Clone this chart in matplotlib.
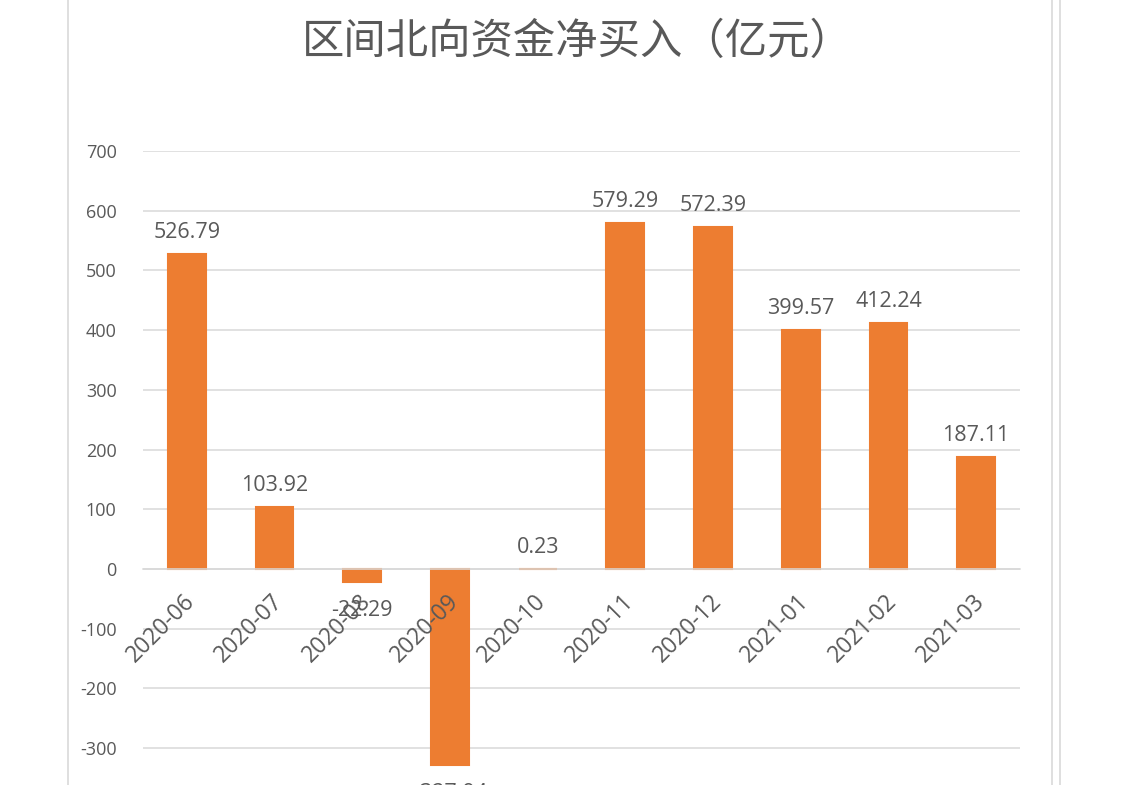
import matplotlib
matplotlib.use("Agg")
import matplotlib.pyplot as plt
from matplotlib.lines import Line2D
from matplotlib.transforms import ScaledTranslation
import numpy as np

# ------------------------------------------------------------------ data
months = ["2020-06", "2020-07", "2020-08", "2020-09", "2020-10",
          "2020-11", "2020-12", "2021-01", "2021-02", "2021-03"]
net_buy = [526.79, 103.92, -22.29, -327.94, 0.23,
           579.29, 572.39, 399.57, 412.24, 187.11]
yticks = [-300, -200, -100, 0, 100, 200, 300, 400, 500, 600, 700]

title = "区间北向资金净买入（亿元）"

# ------------------------------------------------------------------ style
ORANGE = "#ED7D31"
TXT = "#595959"
GRID = "#D9D9D9"
plt.rcParams["font.family"] = ["Open Sans", "Noto Sans CJK SC", "DejaVu Sans"]
plt.rcParams["axes.unicode_minus"] = False

fig = plt.figure(figsize=(11.25, 7.85), dpi=100)
ax = fig.add_axes([143 / 1125, 0.0, 877 / 1125, 1 - 151 / 785])

x = np.arange(len(months))
ax.bar(x, net_buy, width=0.43, color=ORANGE, edgecolor=ORANGE, lw=1.5, zorder=2)

for xi, v in zip(x, net_buy):
    off = 8 if v >= 0 else -13
    ax.annotate(f"{v:.2f}", (xi, v), xytext=(0, off), textcoords="offset points",
                ha="center", va="bottom" if v >= 0 else "top",
                fontsize=15.5, color=TXT, annotation_clip=False, zorder=4)

ax.set_xlim(-0.5, len(months) - 0.5)
ax.set_ylim(-361.7, 700)
ax.set_yticks(yticks)
ax.yaxis.grid(True, color=GRID, lw=1.1)
ax.set_axisbelow(True)
ax.xaxis.set_zorder(3)

for s in ["top", "right", "left"]:
    ax.spines[s].set_visible(False)
ax.spines["bottom"].set_position(("data", 0))
ax.spines["bottom"].set_color(GRID)
ax.spines["bottom"].set_linewidth(1.1)

ax.tick_params(axis="y", length=0, pad=19, labelsize=13, labelcolor=TXT)
ax.tick_params(axis="x", length=0, pad=21, labelsize=16.5, labelcolor=TXT)
ax.set_xticks(x)
ax.set_xticklabels(months, rotation=45, ha="right", va="center",
                   rotation_mode="anchor")
shift = ScaledTranslation(5 / 100, 0, fig.dpi_scale_trans)
for lab in ax.get_xticklabels():
    lab.set_transform(lab.get_transform() + shift)

fig.text(577 / 1125, 1 - 42 / 785, title, ha="center", va="center",
         fontsize=30.5, color=TXT, family=["Noto Sans CJK SC", "DejaVu Sans"])

# chart frame edges
for xf in (68, 1052, 1060):
    fig.add_artist(Line2D([xf / 1125] * 2, [0, 1], color=GRID, lw=1.2,
                          transform=fig.transFigure))

fig.savefig("out.png", dpi=100)
